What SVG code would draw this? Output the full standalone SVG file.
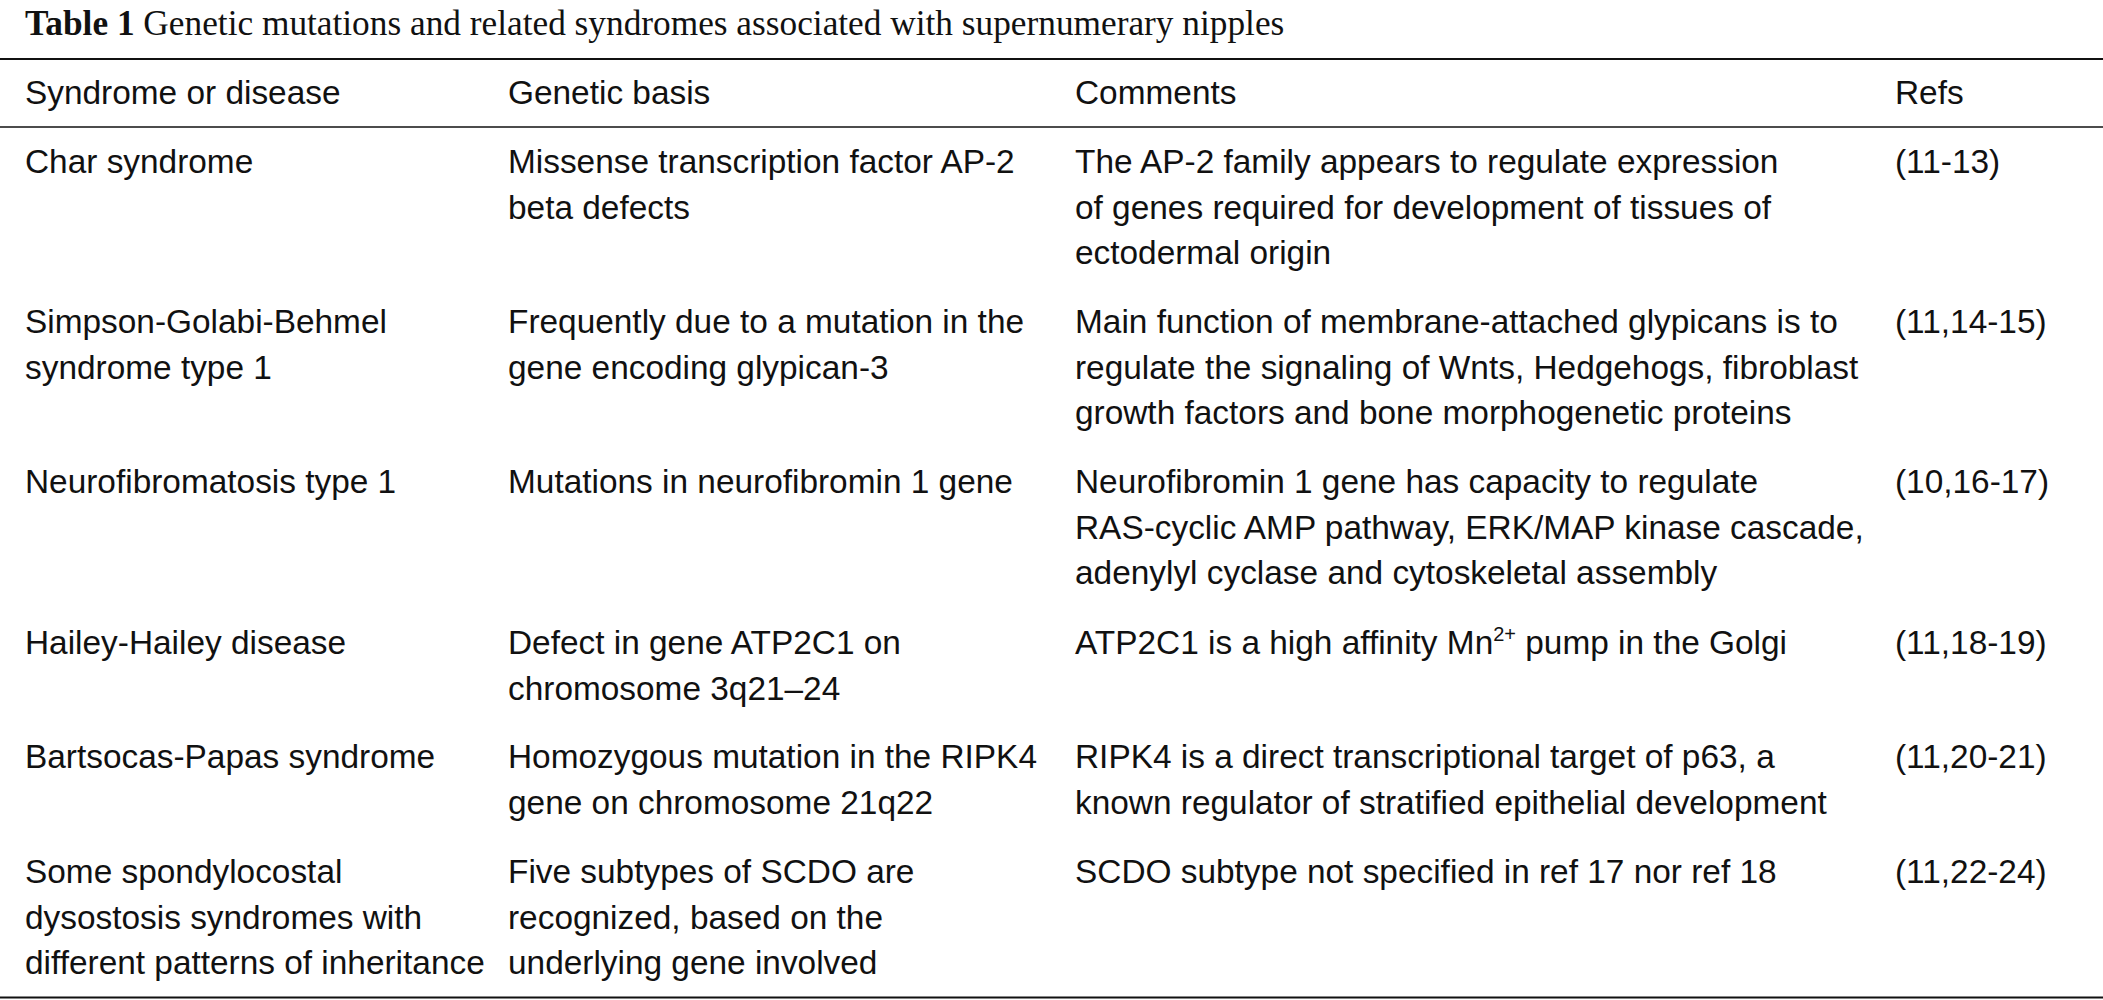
<svg xmlns="http://www.w3.org/2000/svg" width="2103" height="1000" viewBox="0 0 2103 1000">
<style>
.bg{fill:#ffffff}
.t{font-family:"Liberation Sans",Arial,Helvetica,sans-serif;font-size:33.4px;fill:#111111}
.title{font-family:"Liberation Serif","Times New Roman",serif;font-size:35.3px;fill:#111111}
.b{font-weight:bold}
.rule{stroke:#111111;fill:none}
</style>
<rect class="bg" x="0" y="0" width="2103" height="1000"/>
<text id="title" class="title" x="25" y="35"><tspan class="b">Table 1</tspan> Genetic mutations and related syndromes associated with supernumerary nipples</text>
<g id="rules">
<line class="rule" x1="0" y1="59" x2="2103" y2="59" stroke-width="2.2"/>
<line class="rule" x1="0" y1="127" x2="2103" y2="127" stroke-width="1.6"/>
<line class="rule" x1="0" y1="997.5" x2="2103" y2="997.5" stroke-width="2.2"/>
</g>
<g id="header">
<text class="t" x="25" y="104">Syndrome or disease</text>
<text class="t" x="508" y="104">Genetic basis</text>
<text class="t" x="1075" y="104">Comments</text>
<text class="t" x="1895" y="104">Refs</text>
</g>
<g id="row-char">
<text class="t" x="25" y="173">Char syndrome</text>
<text class="t" x="508" y="173">Missense transcription factor AP-2</text>
<text class="t" x="508" y="218.5">beta defects</text>
<text class="t" x="1075" y="173">The AP-2 family appears to regulate expression</text>
<text class="t" x="1075" y="218.5">of genes required for development of tissues of</text>
<text class="t" x="1075" y="264">ectodermal origin</text>
<text class="t" x="1895" y="173">(11-13)</text>
</g>
<g id="row-sgb">
<text class="t" x="25" y="333">Simpson-Golabi-Behmel</text>
<text class="t" x="25" y="378.5">syndrome type 1</text>
<text class="t" x="508" y="333">Frequently due to a mutation in the</text>
<text class="t" x="508" y="378.5">gene encoding glypican-3</text>
<text class="t" x="1075" y="333">Main function of membrane-attached glypicans is to</text>
<text class="t" x="1075" y="378.5">regulate the signaling of Wnts, Hedgehogs, fibroblast</text>
<text class="t" x="1075" y="424">growth factors and bone morphogenetic proteins</text>
<text class="t" x="1895" y="333">(11,14-15)</text>
</g>
<g id="row-nf1">
<text class="t" x="25" y="493">Neurofibromatosis type 1</text>
<text class="t" x="508" y="493">Mutations in neurofibromin 1 gene</text>
<text class="t" x="1075" y="493">Neurofibromin 1 gene has capacity to regulate</text>
<text class="t" x="1075" y="538.5">RAS-cyclic AMP pathway, ERK/MAP kinase cascade,</text>
<text class="t" x="1075" y="584">adenylyl cyclase and cytoskeletal assembly</text>
<text class="t" x="1895" y="493">(10,16-17)</text>
</g>
<g id="row-hailey">
<text class="t" x="25" y="654">Hailey-Hailey disease</text>
<text class="t" x="508" y="654">Defect in gene ATP2C1 on</text>
<text class="t" x="508" y="699.5">chromosome 3q21–24</text>
<text class="t" x="1075" y="654">ATP2C1 is a high affinity Mn<tspan font-size="20" dy="-13">2+</tspan><tspan dy="13"> pump in the Golgi</tspan></text>
<text class="t" x="1895" y="654">(11,18-19)</text>
</g>
<g id="row-bartsocas">
<text class="t" x="25" y="768">Bartsocas-Papas syndrome</text>
<text class="t" x="508" y="768">Homozygous mutation in the RIPK4</text>
<text class="t" x="508" y="813.5">gene on chromosome 21q22</text>
<text class="t" x="1075" y="768">RIPK4 is a direct transcriptional target of p63, a</text>
<text class="t" x="1075" y="813.5">known regulator of stratified epithelial development</text>
<text class="t" x="1895" y="768">(11,20-21)</text>
</g>
<g id="row-scdo">
<text class="t" x="25" y="883">Some spondylocostal</text>
<text class="t" x="25" y="928.5">dysostosis syndromes with</text>
<text class="t" x="25" y="974">different patterns of inheritance</text>
<text class="t" x="508" y="883">Five subtypes of SCDO are</text>
<text class="t" x="508" y="928.5">recognized, based on the</text>
<text class="t" x="508" y="974">underlying gene involved</text>
<text class="t" x="1075" y="883">SCDO subtype not specified in ref 17 nor ref 18</text>
<text class="t" x="1895" y="883">(11,22-24)</text>
</g>
</svg>
